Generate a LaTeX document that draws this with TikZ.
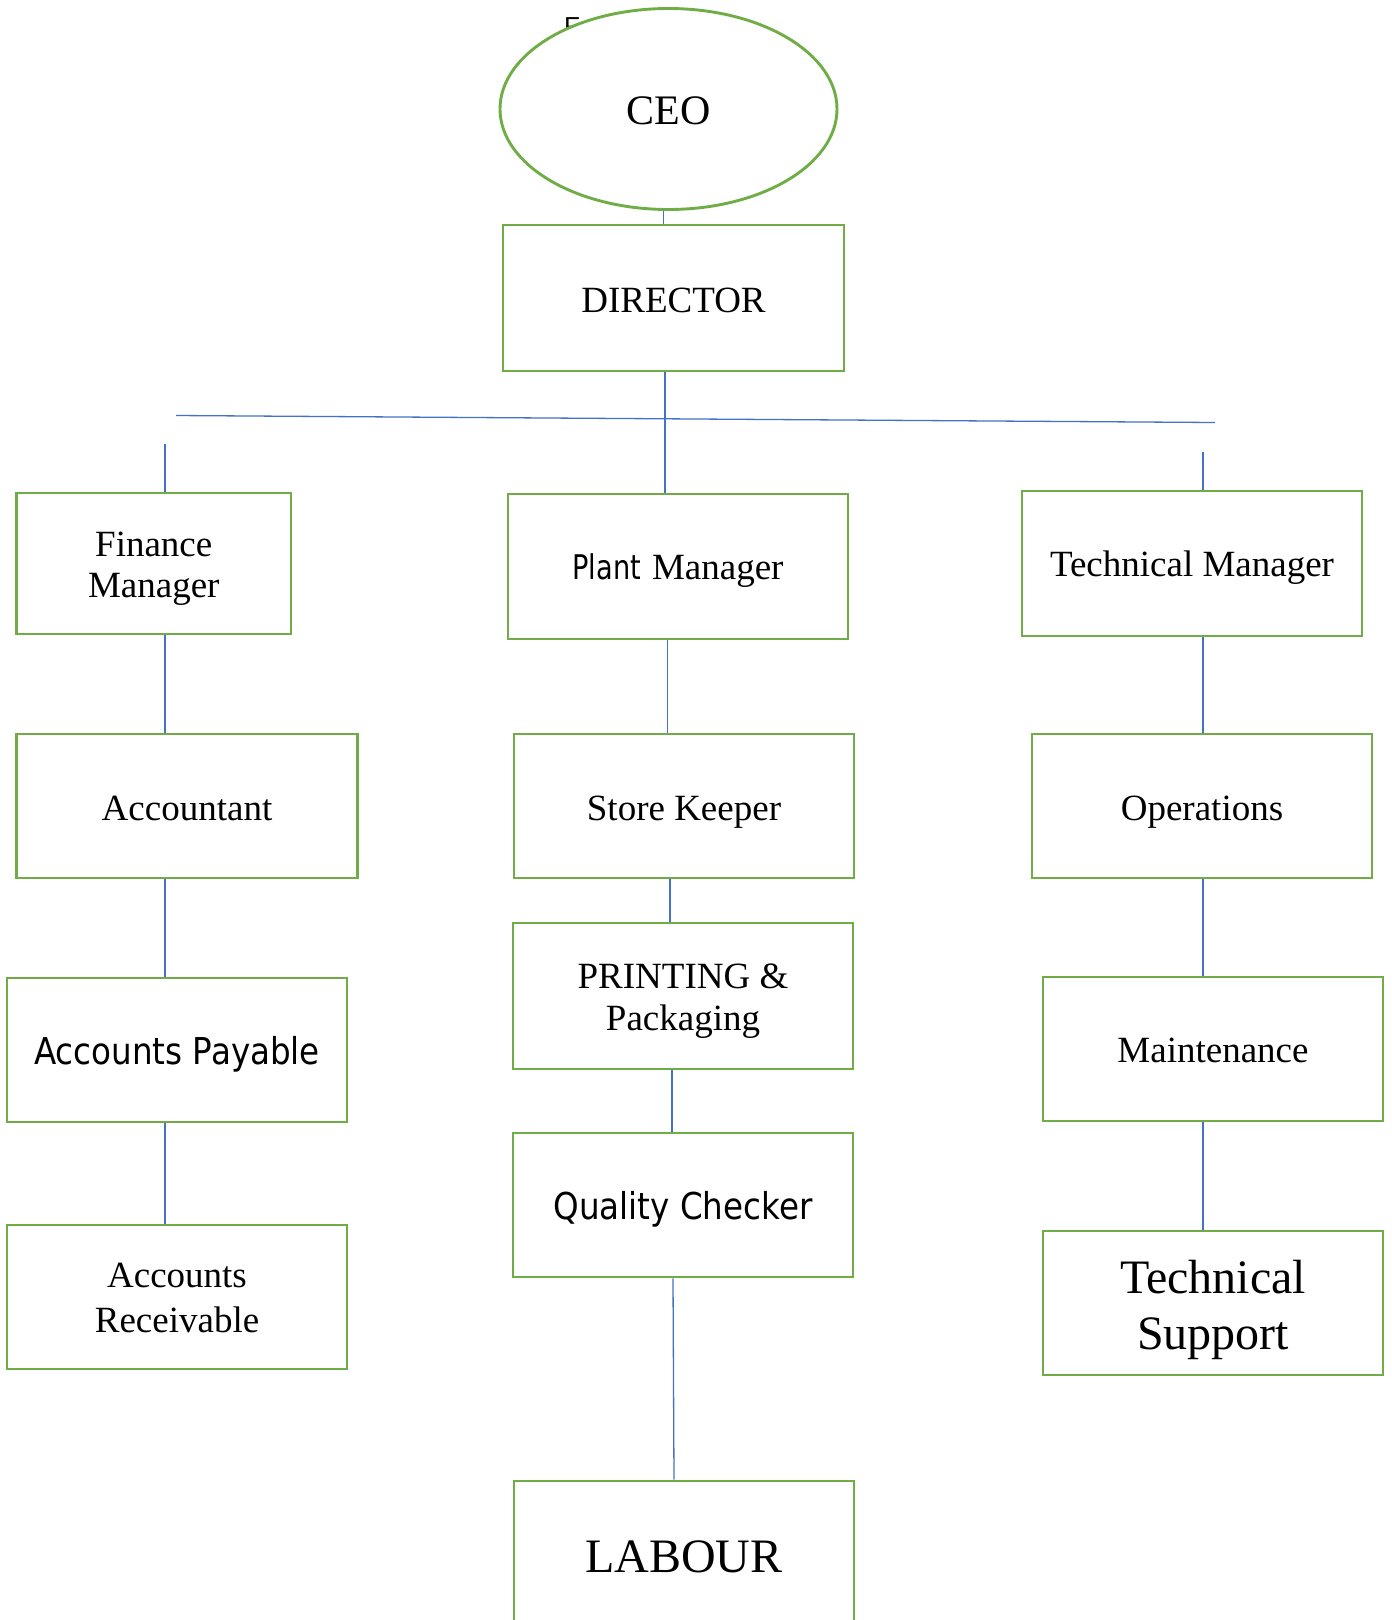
\documentclass[tikz,border=0pt]{standalone}
\usepackage{fontspec}
\setmainfont{Liberation Serif}
\newfontfamily\tah[FakeStretch=0.88]{DejaVu Sans}
\newfontfamily\tahn[FakeStretch=0.8]{DejaVu Sans}
\newfontfamily\fsans{Liberation Sans}
\usetikzlibrary{shapes.geometric}
\definecolor{boxgreen}{HTML}{70AD47}
\definecolor{linkblue}{HTML}{4472C4}
\begin{document}
\begin{tikzpicture}[x=1pt,y=-1pt,
  box/.style={draw=boxgreen, line width=2.9pt, fill=white, inner sep=0pt,
              minimum width=340pt, minimum height=144pt, text depth=0pt,
              font=\fontsize{37}{40}\selectfont},
  multi/.style={text height=0pt, text depth=#1},
  link/.style={draw=linkblue, line width=1.3pt}]
\clip (0,0) rectangle (1392,1620);
\fill[white] (0,0) rectangle (1392,1620);

% partly hidden letter behind the ellipse
\node[inner sep=0pt, anchor=base west, font=\fsans\fontsize{26}{30}\selectfont] (ftxt) at (564,35.6) {F};

% nodes
\node[ellipse, draw=boxgreen, line width=2.9pt, fill=white, inner sep=0pt, text height=30.4pt, text depth=0pt,
      minimum width=337pt, minimum height=201pt, font=\fontsize{42}{48}\selectfont] (ceo) at (668.5,109) {CEO};
\node[box, minimum width=341pt, minimum height=146pt, text height=28.5pt] (dir) at (673.5,298) {DIRECTOR};

\node[box, minimum width=274.5pt, minimum height=141pt, multi=13.6pt, font=\fontsize{37}{41}\selectfont] (fm) at (153.75,563.5)
  {\parbox[t]{260pt}{\centering Finance\\Manager}};
\node[box, minimum height=145pt, text height=26pt] (pm) at (678,566.5)
  {{\tahn\fontsize{34}{36}\selectfont Plant}\hspace{11pt}Manager};
\node[box, minimum height=145pt, text height=25pt] (tm) at (1192,563.5) {Technical Manager};

\node[box, minimum width=341pt, text height=29pt] (acc) at (187,806) {Accountant};
\node[box, text height=29.6pt] (sk) at (684,806) {Store Keeper};
\node[box, text height=29.6pt] (ops) at (1202,806) {Operations};

\node[box, text height=29.4pt, font=\tah\fontsize{37}{40}\selectfont] (ap) at (177,1050) {Accounts Payable};
\node[box, minimum height=146pt, multi=16pt, font=\fontsize{37}{42}\selectfont] (pp) at (683,996)
  {\parbox[t]{320pt}{\centering PRINTING \&\\Packaging}};
\node[box, text height=27pt] (mt) at (1213,1049) {Maintenance};

\node[box, multi=20pt, font=\fontsize{37}{45}\selectfont] (ar) at (177,1297)
  {\parbox[t]{320pt}{\centering Accounts\\Receivable}};
\node[box, text height=29.4pt, font=\tah\fontsize{37}{40}\selectfont] (qc) at (683,1205) {Quality Checker};
\node[box, multi=19pt, font=\fontsize{48}{56}\selectfont] (ts) at (1213,1303)
  {\parbox[t]{320pt}{\centering Technical\\Support}};

\node[box, minimum height=146pt, text height=36pt, font=\fontsize{48}{52}\selectfont] (lab) at (684,1554) {LABOUR};

% column positions and free line ends
\coordinate (xceo) at (663.5,0);
\coordinate (xdir) at (665,0);
\coordinate (xL) at (165,0);
\coordinate (xR) at (1203,0);
\coordinate (xpm) at (667.5,0);
\coordinate (xsk) at (670,0);
\coordinate (xpp) at (672,0);
\coordinate (xqc) at (673,0);
\coordinate (xlab) at (674,0);
\coordinate (hL) at (176,415.5);
\coordinate (hR) at (1215,422.5);
\coordinate (sL) at (165,444);
\coordinate (sR) at (1203,452);

% connectors
\draw[link] (ceo.south -| xceo) -- (dir.north -| xceo);
\draw[link] (hL) -- (hR);
\draw[link] (dir.south -| xdir) -- (pm.north -| xdir);
\draw[link] (sL) -- (fm.north -| xL);
\draw[link] (sR) -- (tm.north -| xR);

\draw[link] (fm.south -| xL) -- (acc.north -| xL);
\draw[link] (acc.south -| xL) -- (ap.north -| xL);
\draw[link] (ap.south -| xL) -- (ar.north -| xL);

\draw[link] (pm.south -| xpm) -- (sk.north -| xpm);
\draw[link] (sk.south -| xsk) -- (pp.north -| xsk);
\draw[link] (pp.south -| xpp) -- (qc.north -| xpp);
\draw[link] (qc.south -| xqc) -- (lab.north -| xlab);

\draw[link] (tm.south -| xR) -- (ops.north -| xR);
\draw[link] (ops.south -| xR) -- (mt.north -| xR);
\draw[link] (mt.south -| xR) -- (ts.north -| xR);
\end{tikzpicture}
\end{document}
